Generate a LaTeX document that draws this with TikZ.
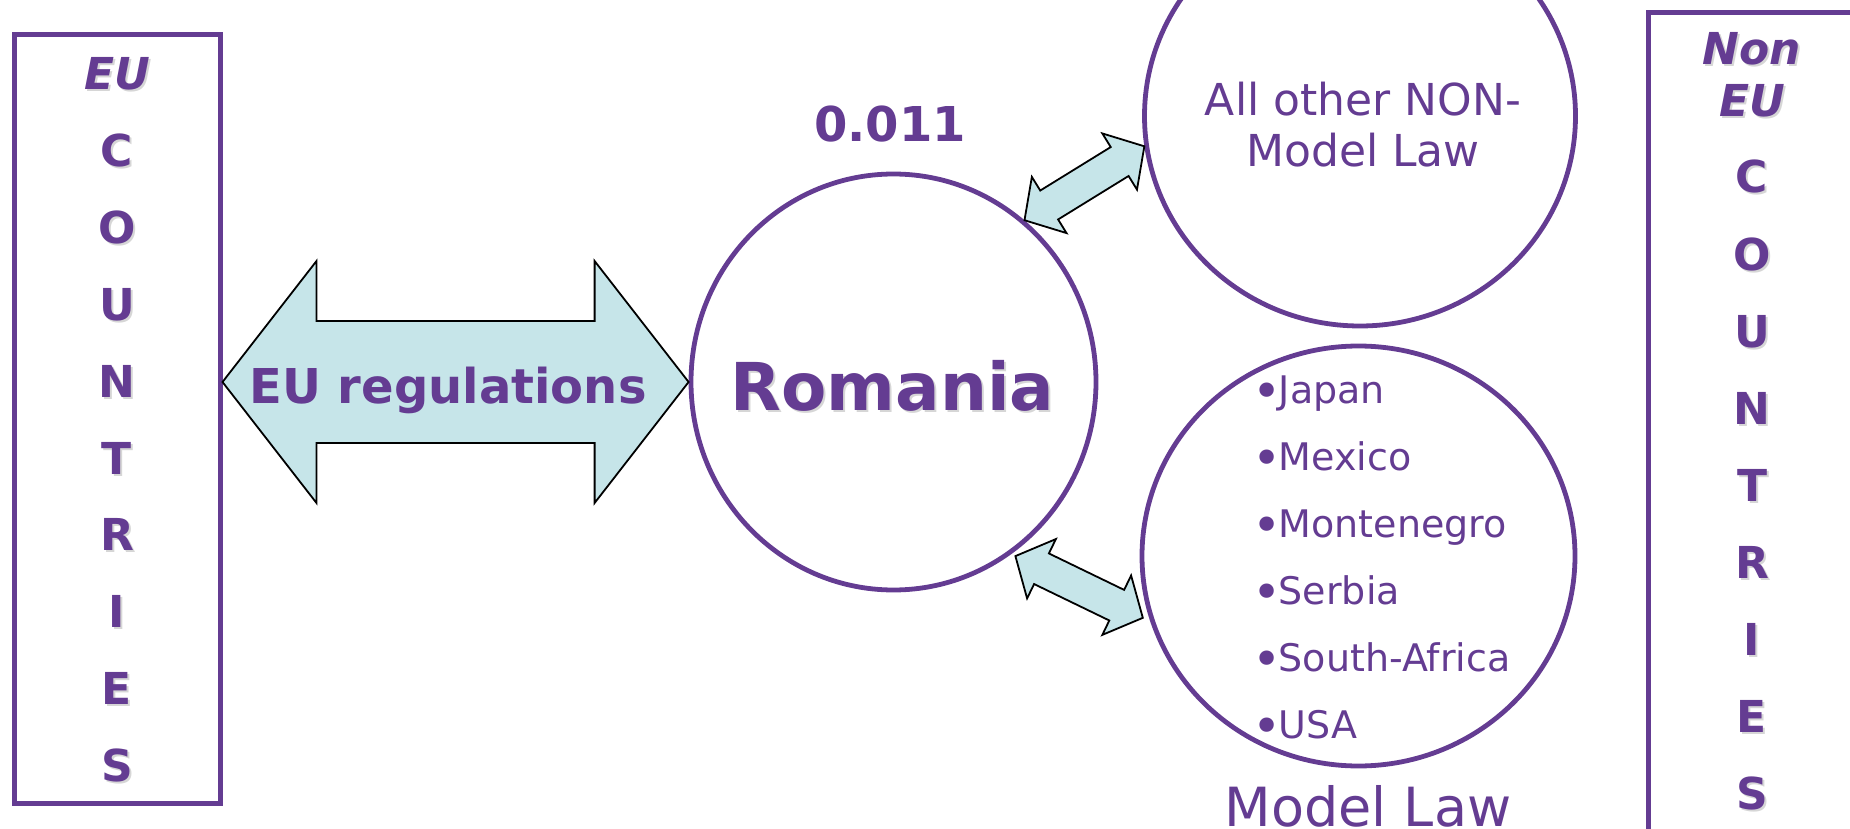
\documentclass[tikz,border=0pt]{standalone}
\usepackage{fontspec}
\usepackage{graphicx}
\setmainfont{DejaVu Sans}
\usetikzlibrary{shapes.geometric,calc}

\definecolor{lawpurple}{HTML}{643C92}
\definecolor{arrowcyan}{HTML}{C6E5E9}
\definecolor{softshadow}{HTML}{D6D6D6}

\tikzset{
  frame/.style={rectangle, draw=lawpurple, line width=5pt, inner sep=0pt},
  bubble/.style={ellipse, draw=lawpurple, line width=4.8pt, inner sep=0pt},
  blockarrow/.style={fill=arrowcyan, draw=black, line width=1.8pt, line join=miter},
  boxletter/.style={text=lawpurple, font=\fontsize{44}{52}\selectfont\bfseries, anchor=base, inner sep=0pt, align=center},
  plainlabel/.style={text=lawpurple, inner sep=0pt},
  listitem/.style={text=lawpurple, font=\fontsize{38}{44}\selectfont, anchor=base west, inner sep=0pt},
}

% text with a soft grey drop shadow: #1 style, #2 name, #3 position, #4 text
\newcommand\shadowedtext[4]{%
  \node[#1, text=softshadow, xshift=2pt, yshift=-2pt] at #3 {#4};
  \node[#1] (#2) at #3 {#4};}

% large list bullet
\newcommand\listbullet{\raisebox{-5.5pt}{\scalebox{1.3}{•}}\kern-2.5pt}

% double-headed block arrow between two tips:
% #1,#2 tips, #3 shaft half width, #4 head half width, #5 head length
\newcommand\dblblock[5]{%
  \coordinate (hA) at ($(#1)!#5!(#2)$);
  \coordinate (hB) at ($(#2)!#5!(#1)$);
  \draw[blockarrow] (#1) -- ($(hA)!#4!90:(#2)$) -- ($(hA)!#3!90:(#2)$)
    -- ($(hB)!#3!-90:(#1)$) -- ($(hB)!#4!-90:(#1)$) -- (#2)
    -- ($(hB)!#4!90:(#1)$) -- ($(hB)!#3!90:(#1)$)
    -- ($(hA)!#3!-90:(#2)$) -- ($(hA)!#4!-90:(#2)$) -- cycle;}

\begin{document}
\begin{tikzpicture}[x=1pt, y=-1pt]
\useasboundingbox (0,0) rectangle (1850,829);

% side frames
\node[frame, minimum width=206pt, minimum height=768pt] (eubox) at (117,419) {};
\node[frame, minimum width=208pt, minimum height=832pt] (noneubox) at (1752,429) {};

% EU column
\shadowedtext{boxletter, font=\fontsize{44}{52}\selectfont\bfseries\itshape}{euhead}{(117,90)}{EU}
\foreach \ch [count=\k] in {C,O,U,N,T,R,I,E,S}
  \shadowedtext{boxletter}{eu\k}{(117,{90+76.8*\k})}{\ch};

% Non EU column
\shadowedtext{boxletter, font=\fontsize{44}{52}\selectfont\bfseries\itshape}{nonhead1}{(1752,65)}{Non}
\shadowedtext{boxletter, font=\fontsize{44}{52}\selectfont\bfseries\itshape}{nonhead2}{(1752,117)}{EU}
\foreach \ch [count=\k] in {C,O,U,N,T,R,I,E,S}
  \shadowedtext{boxletter}{non\k}{(1752,{193+77.1*(\k-1)})}{\ch};

% circles
\node[bubble, minimum width=405pt, minimum height=416pt] (romania) at (893.5,382) {};
\node[bubble, minimum width=431pt, minimum height=420pt] (nonmodel) at (1360,116) {};
\node[bubble, minimum width=433pt, minimum height=420pt] (modellaw) at (1358.5,556) {};

% labels
\shadowedtext{plainlabel, font=\fontsize{66}{70}\selectfont\bfseries, anchor=base}{romanialabel}{(892.5,410)}{Romania}
\node[plainlabel, font=\fontsize{48}{52}\selectfont\bfseries, anchor=base] (ratio) at (890,142) {0.011};
\node[plainlabel, font=\fontsize{44}{51}\selectfont, anchor=base, align=center] (nonmodeltext) at (1363,167) {All other NON-\\Model Law};
\node[plainlabel, font=\fontsize{54}{60}\selectfont, anchor=base] (modellawtitle) at (1368,826) {Model Law};

\foreach \item [count=\k] in {Japan,Mexico,Montenegro,Serbia,South-Africa,USA}
  \node[listitem] (item\k) at (1252,{403+67*(\k-1)}) {\listbullet\item};

% EU regulations arrow
\coordinate (euend) at (eubox.east |- romania.west);
\dblblock{euend}{romania.west}{61pt}{121pt}{94pt}
\node[plainlabel, font=\fontsize{48}{52}\selectfont\bfseries, anchor=base] (eureg) at (448,403) {EU regulations};

% links to the other circles
\coordinate (rtop) at (romania.51);
\coordinate (ntop) at (nonmodel.188);
\dblblock{rtop}{ntop}{17pt}{33pt}{29pt}
\coordinate (rbot) at ($(romania.-55.5)!-4pt!(romania.center)$);
\coordinate (mbot) at ($(modellaw.196.5)!-6pt!(modellaw.center)$);
\dblblock{rbot}{mbot}{17pt}{33pt}{29pt}
\end{tikzpicture}
\end{document}
